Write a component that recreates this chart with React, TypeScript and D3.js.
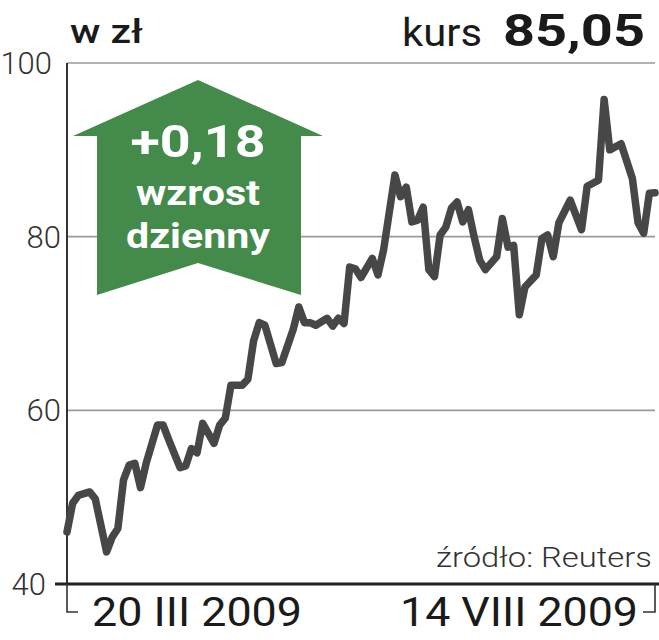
import React from 'react';
import * as d3 from 'd3';

// ---- data ----
const tradingDay = [0,1,2,4,5,7,8,9,10,11,12,13,14,16,17,18,20,21,22,23,24,26,27,28,29,31,32,33,34,35,37,38,40,41,42,43,44,46,47,48,49,50,51,52,54,55,56,58,59,60,61,62,63,64,65,66,67,68,69,70,71,72,73,74,76,77,78,79,80,81,83,84,85,86,87,89,91,92,94,95,96,98,100,101,102,103,104];
const price = [46.0,49.3,50.2,50.6,49.8,43.7,45.4,46.4,52.0,53.7,53.9,51.1,53.9,58.3,58.3,56.6,53.4,53.6,55.6,55.1,58.5,56.2,58.3,59.1,62.9,62.9,63.6,68.0,70.1,69.8,65.4,65.5,69.3,71.9,70.1,70.1,69.8,70.6,69.7,70.6,70.0,76.5,76.3,75.3,77.5,75.6,78.5,87.1,84.6,85.7,81.7,81.9,83.4,76.2,75.4,80.2,81.1,83.3,84.0,81.7,83.1,80.0,77.3,76.2,77.7,82.1,78.8,79.0,71.0,74.2,75.6,79.8,80.2,77.7,81.6,84.2,80.8,85.8,86.5,95.8,90.0,90.7,86.7,81.6,80.4,85.0,85.05];
const yTicks = [40, 60, 80, 100];
const dayDomain = [0, 104];
const dateLabels = ['20 III 2009', '14 VIII 2009'];
const unitLabel = 'w zł';
const rateLabel = 'kurs';
const rateValue = '85,05';
const changeValue = '+0,18';
const changeLines = ['wzrost', 'dzienny'];
const sourceLabel = 'źródło: Reuters';

const W = 659, H = 640;
const FONT = 'Roboto, "Noto Sans", sans-serif';

export default function App() {
  const x = d3.scaleLinear().domain(dayDomain).range([67, 655]);
  const y = d3.scaleLinear().domain([40, 100]).range([584, 63]);
  const pts = tradingDay.map((d, i) => [d, price[i]] as [number, number]);
  const line = d3.line<[number, number]>().x(d => x(d[0])).y(d => y(d[1]))(pts) || '';

  const tickX = (d: number) => (d === 100 ? 52 : d === 40 ? 46 : 61);

  const ax = 198, top = 80, wingY = 136, bodyL = 97, bodyR = 301, wingL = 73, wingR = 323, bot = 295, notch = 263;
  const arrow = `M${ax},${top} L${wingR},${wingY} L${bodyR},${wingY} L${bodyR},${bot} L${ax},${notch} L${bodyL},${bot} L${bodyL},${wingY} L${wingL},${wingY} Z`;

  return (
    <svg width={W} height={H} style={{ position: 'absolute', left: 0, top: 0, background: '#fff' }} fontFamily={FONT}>
      <rect width={W} height={H} fill="#fff" />
      {yTicks.filter(t => t > 40).map(t => (
        <line key={t} x1={67} x2={655} y1={y(t)} y2={y(t)} stroke="#9a9a9a" strokeWidth={1.6} />
      ))}
      <line x1={67} x2={67} y1={y(100)} y2={y(40)} stroke="#333" strokeWidth={2} />
      {yTicks.map(t => (
        <text key={t} x={tickX(t)} y={y(t)} dy="0.36em" textAnchor="end" fontSize={31} fontWeight={300} fill="#333">{t}</text>
      ))}
      <path d={arrow} fill="#438a4b" />
      <text x={ax} y={157} textAnchor="middle" fontSize={45} fontWeight={700} fill="#fff" textLength={135} lengthAdjust="spacingAndGlyphs">{changeValue}</text>
      <text x={ax} y={205} textAnchor="middle" fontSize={35} fontWeight={700} fill="#fff" textLength={124} lengthAdjust="spacingAndGlyphs">{changeLines[0]}</text>
      <text x={ax} y={248} textAnchor="middle" fontSize={35} fontWeight={700} fill="#fff" textLength={144} lengthAdjust="spacingAndGlyphs">{changeLines[1]}</text>
      <path d={line} fill="none" stroke="#474747" strokeWidth={7.5} strokeLinejoin="round" strokeLinecap="round" />
      <line x1={55} x2={659} y1={y(40)} y2={y(40)} stroke="#222" strokeWidth={3} />
      <path d={`M${x(dayDomain[0])},${y(40)} V612 H78`} fill="none" stroke="#333" strokeWidth={1.6} />
      <path d={`M${x(dayDomain[1])},${y(40)} V612 H643`} fill="none" stroke="#333" strokeWidth={1.6} />
      <text x={92} y={626} fontSize={40} fontWeight={400} fill="#1a1a1a" textLength={210} lengthAdjust="spacingAndGlyphs">{dateLabels[0]}</text>
      <text x={400} y={626} fontSize={40} fontWeight={400} fill="#1a1a1a" textLength={238} lengthAdjust="spacingAndGlyphs">{dateLabels[1]}</text>
      <text x={652} y={567} textAnchor="end" fontSize={27} fontWeight={300} fill="#333" textLength={216} lengthAdjust="spacingAndGlyphs">{sourceLabel}</text>
      <text x={70} y={43} fontSize={34} fontWeight={500} fill="#1a1a1a" textLength={73} lengthAdjust="spacingAndGlyphs">{unitLabel}</text>
      <text x={402} y={46} fontSize={38} fontWeight={400} fill="#1a1a1a" textLength={80} lengthAdjust="spacingAndGlyphs">{rateLabel}</text>
      <text x={503} y={46} fontSize={45} fontWeight={700} fill="#1a1a1a" textLength={142} lengthAdjust="spacingAndGlyphs">{rateValue}</text>
    </svg>
  );
}
